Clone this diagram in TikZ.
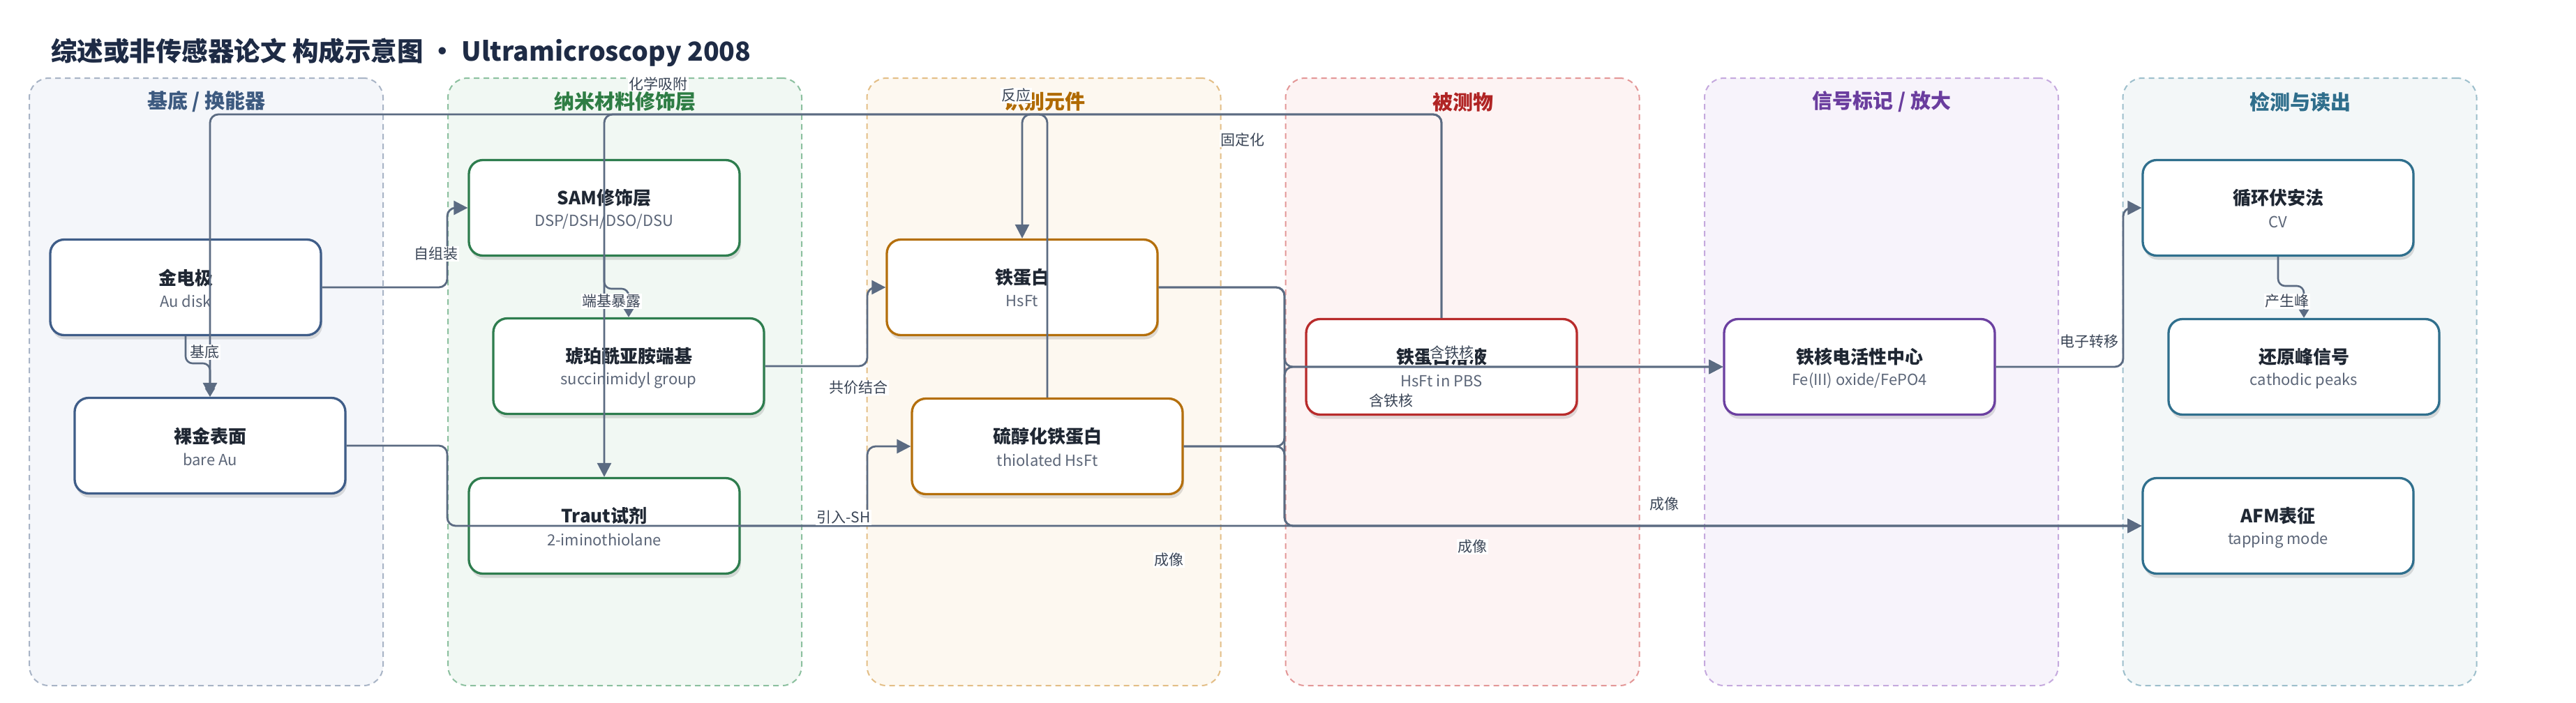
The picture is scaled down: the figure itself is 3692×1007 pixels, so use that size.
\documentclass[tikz,border=0pt]{standalone}
\usepackage{fontspec}
\setmainfont{Noto Sans CJK SC}
\usetikzlibrary{arrows.meta,shadows}
\definecolor{edgec}{HTML}{5B6B82}
\definecolor{titlec}{HTML}{1E2B45}
\definecolor{lblc}{HTML}{3A4556}
\definecolor{nodet}{HTML}{1F2733}
\definecolor{subc}{HTML}{5C6678}
% group fills / borders / titles
\definecolor{gfa}{HTML}{F4F6FA}\definecolor{gba}{HTML}{A8B4C6}\definecolor{gta}{HTML}{3D5A80}\definecolor{nca}{HTML}{3F5D88}
\definecolor{gfb}{HTML}{F1F8F3}\definecolor{gbb}{HTML}{8CC09F}\definecolor{gtb}{HTML}{2E7D44}\definecolor{ncb}{HTML}{2E7D4E}
\definecolor{gfc}{HTML}{FDF8F0}\definecolor{gbc}{HTML}{E3BE86}\definecolor{gtc}{HTML}{B06A00}\definecolor{ncc}{HTML}{B46F0C}
\definecolor{gfd}{HTML}{FDF3F3}\definecolor{gbd}{HTML}{E39797}\definecolor{gtd}{HTML}{B02424}\definecolor{ncd}{HTML}{B82B2B}
\definecolor{gfe}{HTML}{F7F3FB}\definecolor{gbe}{HTML}{C5A9DE}\definecolor{gte}{HTML}{6A3D9E}\definecolor{nce}{HTML}{6B3FA0}
\definecolor{gff}{HTML}{F3F7F8}\definecolor{gbf}{HTML}{9DBFCC}\definecolor{gtf}{HTML}{2F6E8C}\definecolor{ncf}{HTML}{2F6F8D}
\tikzset{
  grp/.style={rectangle, rounded corners=28pt, dashed, dash pattern=on 8pt off 6pt, line width=2pt, minimum width=507pt, minimum height=871pt, inner sep=0pt},
  gtitle/.style={font=\fontsize{29}{33}\selectfont\bfseries},
  box/.style={rectangle, rounded corners=20pt, minimum width=388pt, minimum height=137pt, fill=white, line width=3.3pt, inner sep=0pt,
     drop shadow={shadow xshift=2pt, shadow yshift=-6pt, opacity=0.12, fill=black}},
  ttl/.style={font=\fontsize{26}{30}\selectfont\bfseries, text=nodet, inner sep=0pt},
  subt/.style={font=\fontsize{22}{26}\selectfont, text=subc, inner sep=0pt},
  edge/.style={draw=edgec, line width=2.8pt, rounded corners=12pt, -{Triangle[length=20pt,width=20pt]}},
  edgesm/.style={draw=edgec, line width=2.6pt, rounded corners=10pt, -{Triangle[length=12pt,width=14pt]}},
  lbl/.style={fill=white, inner sep=1.5pt, text=lblc, font=\fontsize{21}{24}\selectfont},
}
\newcommand{\mkbox}[6]{%
  \node[box, draw=#4] (#1) at (#2,#3) {};
  \node[ttl] (#1-t) at (#2,#3-14) {#5};
  \node[subt] (#1-s) at (#2,#3+20) {#6};
}
\begin{document}
\begin{tikzpicture}[x=1pt,y=-1pt]
\fill[white] (0,0) rectangle (3692,1007);
\useasboundingbox (0,0) rectangle (3692,1007);

% title
\node[anchor=west, inner sep=0pt, text=titlec, font=\fontsize{37.5}{44}\selectfont\bfseries] (title) at (73,75) {综述或非传感器论文 构成示意图 · Ultramicroscopy 2008};

% groups
\node[grp, fill=gfa, draw=gba] (g1) at (295.5,547.5) {};
\node[grp, fill=gfb, draw=gbb] (g2) at (895.5,547.5) {};
\node[grp, fill=gfc, draw=gbc] (g3) at (1496,547.5) {};
\node[grp, fill=gfd, draw=gbd] (g4) at (2096,547.5) {};
\node[grp, fill=gfe, draw=gbe] (g5) at (2696.5,547.5) {};
\node[grp, fill=gff, draw=gbf] (g6) at (3296,547.5) {};
\node[gtitle, text=gta] (g1t) at (296,146) {基底 / 换能器};
\node[gtitle, text=gtb] (g2t) at (896,146) {纳米材料修饰层};
\node[gtitle, text=gtc] (g3t) at (1497,146) {识别元件};
\node[gtitle, text=gtd] (g4t) at (2097,146) {被测物};
\node[gtitle, text=gte] (g5t) at (2697,146) {信号标记 / 放大};
\node[gtitle, text=gtf] (g6t) at (3297,146) {检测与读出};

% nodes
\mkbox{jin}{266}{412}{nca}{金电极}{Au disk}
\mkbox{luo}{301}{639}{nca}{裸金表面}{bare Au}
\mkbox{sam}{866}{298}{ncb}{SAM修饰层}{DSP/DSH/DSO/DSU}
\mkbox{hupo}{901}{525}{ncb}{琥珀酰亚胺端基}{succinimidyl group}
\mkbox{traut}{866}{754}{ncb}{Traut试剂}{2-iminothiolane}
\mkbox{tdb}{1465}{412}{ncc}{铁蛋白}{HsFt}
\mkbox{qc}{1501}{640}{ncc}{硫醇化铁蛋白}{thiolated HsFt}
\mkbox{rye}{2066}{526}{ncd}{铁蛋白溶液}{HsFt in PBS}
\mkbox{thx}{2665}{526}{nce}{铁核电活性中心}{Fe(III) oxide/FePO4}
\mkbox{cv}{3265}{298}{ncf}{循环伏安法}{CV}
\mkbox{hyf}{3302}{526}{ncf}{还原峰信号}{cathodic peaks}
\mkbox{afm}{3265}{754}{ncf}{AFM表征}{tapping mode}

% edges
\draw[edge] (jin.east) -- (641,412) |- (sam.west);
\draw[edgesm] (jin.south) -- (266,521) -| (luo.north);
\draw[edgesm] (sam.south) -- (866,414) -| (hupo.north);
\draw[edge] (hupo.east) -- (1243,525) |- (tdb.west);
\draw[edge] (traut.east) -- (1243,754) |- (qc.west);
\draw[edge] (luo.east) -- (641,639) |- (afm.west);
\draw[edge] (tdb.east) -- (1841,412) |- (thx.west);
\draw[edge] (tdb.east) -- (1841,412) |- (afm.west);
\draw[edge] (qc.east) -- (1841,640) |- (thx.west);
\draw[edge] (qc.east) -- (1841,640) |- (afm.west);
\draw[edge] (rye.east) -- (thx.west);
\draw[edge] (thx.east) -- (3043,526) |- (cv.west);
\draw[edgesm] (cv.south) -- (3265,410) -| (hyf.north);
\draw[edge] (qc.north) -- (1501,164) -| (luo.north);
\draw[edge] (rye.north) -- (2066,164) -| (tdb.north);
\draw[edge] (rye.north) -- (2066,164) -| (traut.north);

% edge labels
\node[lbl] (l1) at (943,120) {化学吸附};
\node[lbl] (l2) at (1456,137) {反应};
\node[lbl] (l3) at (1781,200) {固定化};
\node[lbl] (l4) at (625,364) {自组装};
\node[lbl] (l5) at (293,505) {基底};
\node[lbl] (l6) at (876,432) {端基暴露};
\node[lbl] (l7) at (1230,556) {共价结合};
\node[lbl] (l8) at (1209,742) {引入-SH};
\node[lbl] (l9) at (2081,505) {含铁核};
\node[lbl] (l10) at (1994,574) {含铁核};
\node[lbl] (l11) at (1675,803) {成像};
\node[lbl] (l12) at (2110,784) {成像};
\node[lbl] (l13) at (2385,723) {成像};
\node[lbl] (l14) at (2994,490) {电子转移};
\node[lbl] (l15) at (3278,432) {产生峰};
\end{tikzpicture}
\end{document}
